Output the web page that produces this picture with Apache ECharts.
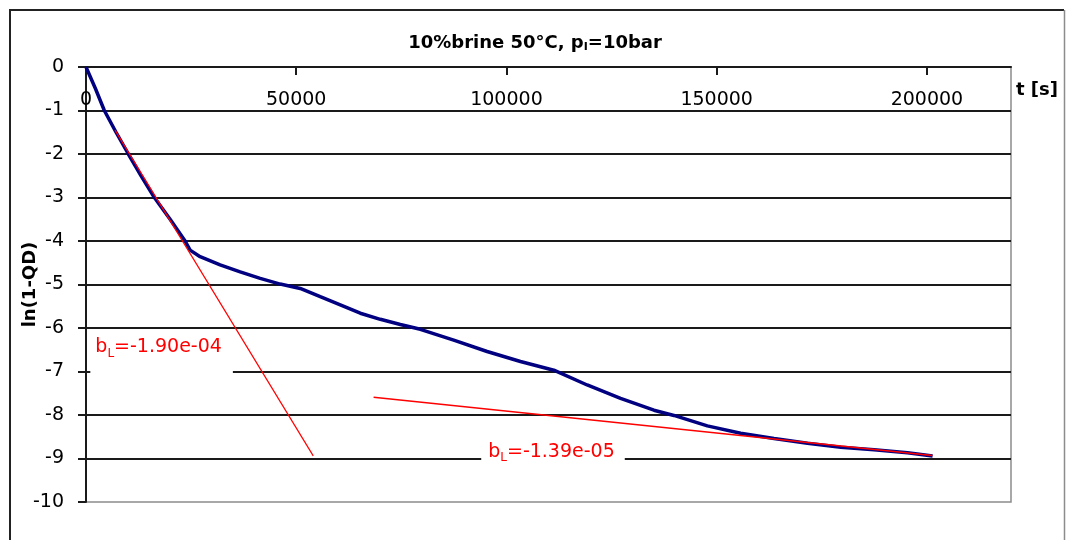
<!DOCTYPE html>
<html>
<head>
<meta charset="utf-8">
<script src="https://cdn.jsdelivr.net/npm/echarts@6/dist/echarts.min.js"></script>
<style>
  html, body { margin: 0; padding: 0; background: #fff; }
  #chart { width: 1070px; height: 540px; }
</style>
</head>
<body>
<div id="chart"></div>
<script>
// Measured decay: time [s] and ln(1-QD)
const timeS = [0, 2260, 4360, 7140, 10070, 13100, 16260, 20000, 23570, 24760,
  27140, 31900, 36670, 41430, 46190, 50950, 55710, 60480, 65240, 70000, 74760,
  79520, 87460, 95400, 103330, 111270, 119200, 127140, 135080, 139840, 147780,
  155710, 163650, 171600, 179520, 187450, 195400, 201350];
const lnQD = [0, -0.50, -1.00, -1.50, -2.00, -2.50, -3.00, -3.50, -4.00, -4.21,
  -4.36, -4.55, -4.71, -4.86, -4.99, -5.09, -5.28, -5.47, -5.66, -5.80, -5.92,
  -6.03, -6.28, -6.54, -6.77, -6.97, -7.31, -7.62, -7.89, -8.01, -8.25,
  -8.42, -8.54, -8.65, -8.74, -8.80, -8.87, -8.94];

// Linear fits (start / end points)
const fitEarlyT = [6900, 54050];
const fitEarlyY = [-1.45, -8.94];
const fitLateT = [68400, 201300];
const fitLateY = [-7.59, -8.93];

// Fit parameter texts
const fitEarlyLabel = '-1.90e-04';
const fitLateLabel = '-1.39e-05';

// Tick values
const xTicks = [0, 50000, 100000, 150000, 200000];
const yTicks = [0, -1, -2, -3, -4, -5, -6, -7, -8, -9, -10];

const FONT = 'DejaVu Sans';
const zip = (a, b) => a.map((v, i) => [v, b[i]]);

const chart = echarts.init(document.getElementById('chart'), null, { renderer: 'canvas' });

// "b_L=value" label on an opaque white box
const bLabel = (val, padding) => ({
  show: true,
  position: 'inside',
  formatter: '{t|b}{s|L}{t|=' + val + '}',
  backgroundColor: '#ffffff',
  opacity: 1,
  padding: padding,
  rich: {
    t: { fontFamily: FONT, fontSize: 19, color: '#ff0000', lineHeight: 24 },
    s: { fontFamily: FONT, fontSize: 12, color: '#ff0000', lineHeight: 13, verticalAlign: 'bottom' }
  }
});

const option = {
  backgroundColor: '#ffffff',
  animation: false,
  title: {
    left: 'center',
    top: 28,
    text: '10%brine 50°C, p{s|I}=10bar',
    textStyle: {
      fontFamily: FONT, fontSize: 18, fontWeight: 'bold', color: '#000',
      rich: {
        s: { fontFamily: FONT, fontSize: 11, fontWeight: 'bold', color: '#000', padding: [9, 0, 0, 0] }
      }
    }
  },
  grid: {
    left: 86, right: 59, top: 67, bottom: 38,
    outerBoundsMode: 'none',
    containLabel: false,
    show: true, borderColor: '#8c8c8c', borderWidth: 1.5, backgroundColor: 'transparent'
  },
  xAxis: {
    type: 'value',
    position: 'top',
    min: 0, max: 220000, interval: 50000,
    name: 't [s]',
    nameLocation: 'end',
    nameGap: 5,
    nameTextStyle: {
      fontFamily: FONT, fontSize: 18, fontWeight: 'bold', color: '#000',
      verticalAlign: 'top', padding: [14, 0, 0, 0]
    },
    axisLine: { show: true, onZero: false, lineStyle: { color: '#1a1a1a', width: 2 } },
    axisTick: { show: true, inside: true, length: 8, customValues: xTicks, lineStyle: { color: '#1a1a1a', width: 2 } },
    axisLabel: {
      inside: true, margin: 24, customValues: xTicks,
      fontFamily: FONT, fontSize: 19, color: '#000',
      formatter: (v) => String(v)
    },
    splitLine: { show: false }
  },
  yAxis: {
    type: 'value',
    min: -10, max: 0, interval: 1,
    name: 'ln(1-QD)',
    nameLocation: 'middle',
    nameRotate: 90,
    nameGap: 47,
    nameMoveOverlap: false,
    nameTextStyle: { fontFamily: FONT, fontSize: 18, fontWeight: 'bold', color: '#000' },
    axisLine: { show: true, onZero: false, lineStyle: { color: '#1a1a1a', width: 2 } },
    axisTick: { show: true, inside: false, length: 8, lineStyle: { color: '#1a1a1a', width: 2 } },
    axisLabel: {
      margin: 22, customValues: yTicks,
      fontFamily: FONT, fontSize: 19, color: '#000',
      formatter: (v) => String(v)
    },
    splitLine: { show: true, showMinLine: false, lineStyle: { color: '#1a1a1a', width: 2 } }
  },
  series: [
    {
      name: 'ln(1-QD)',
      type: 'line',
      data: zip(timeS, lnQD),
      showSymbol: false,
      symbol: 'none',
      lineStyle: { color: '#000080', width: 3.5 },
      z: 3
    },
    {
      name: 'fit early',
      type: 'line',
      data: zip(fitEarlyT, fitEarlyY),
      showSymbol: false,
      symbol: 'none',
      lineStyle: { color: '#ff0000', width: 1.2 },
      z: 4
    },
    {
      name: 'fit late',
      type: 'line',
      data: zip(fitLateT, fitLateY),
      showSymbol: false,
      symbol: 'none',
      lineStyle: { color: '#ff0000', width: 1.5 },
      z: 4
    },
    {
      name: 'bL early',
      type: 'scatter',
      symbolSize: 0,
      itemStyle: { opacity: 1 },
      data: [[17980, -6.55]],
      label: bLabel(fitEarlyLabel, [6, 11, 15, 5]),
      silent: true,
      z: 5
    },
    {
      name: 'bL late',
      type: 'scatter',
      symbolSize: 0,
      itemStyle: { opacity: 1 },
      data: [[111070, -8.85]],
      label: bLabel(fitLateLabel, [8, 10, 8, 7]),
      silent: true,
      z: 5
    }
  ],
  graphic: [
    {
      type: 'polyline',
      shape: { points: [[10, 545], [10, 10], [1064, 10]] },
      style: { stroke: '#222', lineWidth: 2, fill: null },
      silent: true
    },
    {
      type: 'line',
      shape: { x1: 1064.5, y1: 10, x2: 1064.5, y2: 545 },
      style: { stroke: '#8c8c8c', lineWidth: 1.5 },
      silent: true
    }
  ]
};

chart.setOption(option);
</script>
</body>
</html>
